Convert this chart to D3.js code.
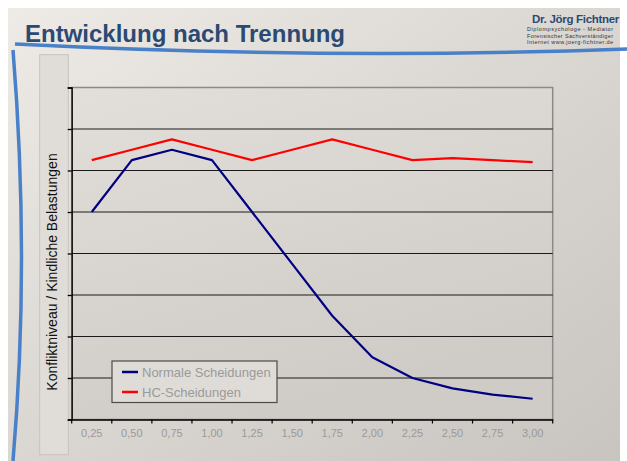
<!DOCTYPE html>
<html>
<head>
<meta charset="utf-8">
<script src="https://cdn.jsdelivr.net/npm/d3@7"></script>
<style>
  body { margin: 0; background: #fff; }
  svg text { font-family: "Liberation Sans", Arial, sans-serif; }
</style>
</head>
<body>
<div id="chart"></div>
<script>
// chart values
const categories = ["0,25", "0,50", "0,75", "1,00", "1,25", "1,50", "1,75", "2,00", "2,25", "2,50", "2,75", "3,00"];
const normale = [5.0, 6.25, 6.5, 6.25, 5.0, 3.75, 2.5, 1.5, 1.0, 0.75, 0.6, 0.5];
const hc = [6.25, 6.5, 6.75, 6.5, 6.25, 6.5, 6.75, 6.5, 6.25, 6.3, 6.25, 6.2];
const yTicks = [0, 1, 2, 3, 4, 5, 6, 7, 8];

const series = [
  { name: "Normale Scheidungen", values: normale, color: "#000080" },
  { name: "HC-Scheidungen", values: hc, color: "#ff0000" }
];

const W = 627, H = 461;
const plot = { left: 71.7, right: 552.7, top: 87.5, bottom: 419.5 };

const svg = d3.select("#chart")
  .append("svg")
    .attr("width", W)
    .attr("height", H);

const defs = svg.append("defs");
const bg = defs.append("linearGradient")
    .attr("id", "bg").attr("x1", 0).attr("y1", 0).attr("x2", 1).attr("y2", 1);
bg.append("stop").attr("offset", "0%").attr("stop-color", "#eeeae5");
bg.append("stop").attr("offset", "45%").attr("stop-color", "#dcd8d3");
bg.append("stop").attr("offset", "100%").attr("stop-color", "#c8c5c0");

const pg = defs.append("linearGradient")
    .attr("id", "pg").attr("x1", 0).attr("y1", 0).attr("x2", 0.4).attr("y2", 1);
pg.append("stop").attr("offset", "0%").attr("stop-color", "#e2dfda");
pg.append("stop").attr("offset", "100%").attr("stop-color", "#cfccc7");

// slide background
svg.append("rect")
    .attr("x", 8).attr("y", 8)
    .attr("width", 612).attr("height", H - 8)
    .attr("fill", "url(#bg)");

// title
svg.append("text")
    .attr("x", 25)
    .attr("y", 42)
    .attr("fill", "#2b4a73")
    .style("font-size", "24px")
    .style("font-weight", "bold")
    .text("Entwicklung nach Trennung");

// logo block
svg.append("text")
    .attr("x", 619).attr("y", 23)
    .attr("text-anchor", "end")
    .attr("fill", "#2b4a73")
    .style("font-size", "11.5px")
    .style("font-weight", "bold")
    .style("letter-spacing", "-0.3px")
    .text("Dr. Jörg Fichtner");

const logoLines = ["Diplompsychologe  -  Mediator", "Forensischer Sachverständiger", "Internet www.joerg-fichtner.de"];
svg.selectAll(".logo-line")
  .data(logoLines)
  .enter()
  .append("text")
    .attr("class", "logo-line")
    .attr("x", 527)
    .attr("y", (d, i) => 31 + i * 6.6)
    .attr("textLength", 86)
    .attr("lengthAdjust", "spacing")
    .attr("fill", "#333")
    .style("font-size", "5.5px")
    .text(d => d);

// blue swooshes
svg.append("path")
    .attr("d", "M15,44 Q330,60 627,49")
    .attr("fill", "none")
    .attr("stroke", "#4a80c8")
    .attr("stroke-width", 3.5);
svg.append("path")
    .attr("d", "M13,50 Q30,260 13,461")
    .attr("fill", "none")
    .attr("stroke", "#4a80c8")
    .attr("stroke-width", 3.5);

// y title box
svg.append("rect")
    .attr("x", 39.7).attr("y", 54.7)
    .attr("width", 28.6).attr("height", 400)
    .attr("fill", "#e0dcd7")
    .attr("stroke", "#c6c2bd")
    .attr("stroke-width", 1);

// plot area
svg.append("rect")
    .attr("x", plot.left).attr("y", plot.top)
    .attr("width", plot.right - plot.left)
    .attr("height", plot.bottom - plot.top)
    .attr("fill", "url(#pg)")
    .attr("stroke", "#8a8a8a")
    .attr("stroke-width", 1.5);

const x = d3.scaleBand()
    .domain(categories)
    .range([plot.left, plot.right]);

const y = d3.scaleLinear()
    .domain([0, 8])
    .range([plot.bottom, plot.top]);

// gridlines
svg.selectAll(".grid")
  .data(yTicks.slice(1, -1))
  .enter()
  .append("line")
    .attr("class", "grid")
    .attr("x1", plot.left).attr("x2", plot.right)
    .attr("y1", d => y(d)).attr("y2", d => y(d))
    .attr("stroke", "#1a1a1a")
    .attr("stroke-width", 1);

// y axis (ticks only)
const yAxis = svg.append("g")
    .attr("transform", `translate(${plot.left},0)`)
    .call(d3.axisLeft(y).tickValues(yTicks).tickSize(4).tickFormat(""));
yAxis.selectAll("path, line").attr("stroke", "#000").attr("stroke-width", 1.3);

// x axis
const xAxis = svg.append("g")
    .attr("transform", `translate(0,${plot.bottom})`)
    .call(d3.axisBottom(x).tickSize(0).tickPadding(10));
xAxis.select(".domain").attr("stroke", "#000").attr("stroke-width", 1.3);
xAxis.selectAll("text")
    .attr("fill", "#9a9a9a")
    .style("font-size", "11px");

// tick marks between categories
const edges = categories.map(c => x(c)).concat([plot.right]);
svg.selectAll(".xtick")
  .data(edges)
  .enter()
  .append("line")
    .attr("class", "xtick")
    .attr("x1", d => d).attr("x2", d => d)
    .attr("y1", plot.bottom).attr("y2", plot.bottom + 4)
    .attr("stroke", "#000")
    .attr("stroke-width", 1.2);

// lines
const line = d3.line()
    .x((d, i) => x(categories[i]) + x.bandwidth() / 2)
    .y(d => y(d));

svg.selectAll(".series")
  .data(series)
  .enter()
  .append("path")
    .attr("class", "series")
    .attr("d", d => line(d.values))
    .attr("fill", "none")
    .attr("stroke", d => d.color)
    .attr("stroke-width", 2.2)
    .attr("stroke-linejoin", "round");

// y title
svg.append("text")
    .attr("transform", "translate(57,272) rotate(-90)")
    .attr("text-anchor", "middle")
    .attr("fill", "#111")
    .style("font-size", "14px")
    .text("Konfliktniveau / Kindliche Belastungen");

// legend
const legend = svg.append("g")
    .attr("transform", "translate(112,361)");
legend.append("rect")
    .attr("width", 165).attr("height", 41.5)
    .attr("fill", "#dfdcd8")
    .attr("stroke", "#4a4a4a")
    .attr("stroke-width", 1.2);

const items = legend.selectAll(".item")
  .data(series)
  .enter()
  .append("g")
    .attr("class", "item")
    .attr("transform", (d, i) => `translate(0,${11 + i * 20})`);
items.append("line")
    .attr("x1", 10).attr("x2", 26)
    .attr("stroke", d => d.color)
    .attr("stroke-width", 2.5);
items.append("text")
    .attr("x", 30).attr("y", 4.5)
    .attr("fill", "#9a9a9a")
    .style("font-size", "13px")
    .text(d => d.name);
</script>
</body>
</html>
